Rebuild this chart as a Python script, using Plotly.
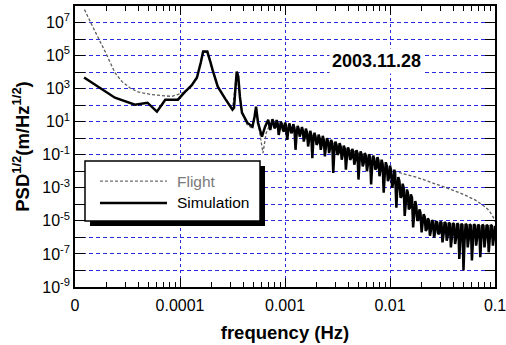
import plotly.graph_objects as go

# ---------------- data ----------------
# Simulation: low-frequency part with the resonance peaks
sim_freq_low = [
    1.22e-5, 2.40e-5, 3.72e-5, 4.90e-5, 6.03e-5, 7.24e-5, 9.55e-5, 1.12e-4,
    1.29e-4, 1.45e-4, 1.58e-4, 1.66e-4, 1.82e-4, 1.95e-4, 2.04e-4, 2.29e-4,
    2.69e-4, 3.16e-4, 3.27e-4, 3.39e-4, 3.47e-4, 3.59e-4, 3.72e-4, 3.89e-4,
    4.37e-4, 4.90e-4, 5.13e-4, 5.30e-4, 5.53e-4, 6.03e-4, 6.46e-4, 6.92e-4,
    7.24e-4,
]
sim_psd_low = [
    4.68e3, 2.82e2, 1.07e2, 1.41e2, 4.07e1, 2.14e2, 2.14e2, 6.61e2,
    1.58e3, 4.68e3, 3.98e4, 1.74e5, 1.74e5, 3.98e4, 1.41e4, 1.32e3,
    2.51e2, 5.37e1, 7.08e1, 1.58e3, 1.07e4, 5.37e3, 3.16e2, 3.55e1,
    8.71e0, 5.01e0, 2.00e1, 8.13e1, 8.71e0, 1.23e0, 5.01e0, 1.32e1,
    3.16e0,
]
# Simulation: noisy high-frequency band, bins set A
sim_freq_a = [
    7.59e-4, 7.94e-4, 8.32e-4, 8.71e-4, 9.12e-4, 9.55e-4,
    1.00e-3, 1.05e-3, 1.10e-3, 1.15e-3, 1.20e-3, 1.26e-3, 1.32e-3, 1.38e-3,
    1.45e-3, 1.51e-3, 1.58e-3, 1.66e-3, 1.74e-3, 1.82e-3, 1.91e-3, 2.00e-3,
    2.09e-3, 2.19e-3, 2.29e-3, 2.40e-3, 2.51e-3, 2.63e-3, 2.75e-3, 2.88e-3,
    3.02e-3, 3.16e-3, 3.31e-3, 3.47e-3, 3.63e-3, 3.80e-3, 3.98e-3, 4.17e-3,
    4.37e-3, 4.57e-3, 4.79e-3, 5.01e-3, 5.25e-3, 5.50e-3, 5.75e-3, 6.03e-3,
    6.31e-3, 6.61e-3, 6.92e-3, 7.24e-3, 7.59e-3, 7.94e-3, 8.32e-3, 8.71e-3,
    9.12e-3, 9.55e-3,
    1.00e-2, 1.05e-2, 1.10e-2, 1.15e-2, 1.20e-2, 1.26e-2, 1.32e-2, 1.38e-2,
    1.45e-2, 1.51e-2, 1.58e-2, 1.66e-2, 1.74e-2, 1.82e-2, 1.91e-2, 2.00e-2,
    2.09e-2, 2.19e-2, 2.29e-2, 2.40e-2, 2.51e-2, 2.63e-2, 2.75e-2, 2.88e-2,
    3.02e-2, 3.16e-2, 3.31e-2, 3.47e-2, 3.63e-2, 3.80e-2, 3.98e-2, 4.17e-2,
    4.37e-2, 4.57e-2, 4.79e-2, 5.01e-2, 5.25e-2, 5.50e-2, 5.75e-2, 6.03e-2,
    6.31e-2, 6.61e-2, 6.92e-2, 7.24e-2, 7.59e-2, 7.94e-2, 8.32e-2, 8.71e-2,
    9.12e-2, 9.55e-2, 1.00e-1,
]
sim_psd_a = [
    1.41e1, 3.98e0, 1.26e1, 1.58e0, 1.00e1, 3.16e0,
    8.91e0, 7.94e-1, 7.94e0, 2.00e0, 7.08e0, 2.00e-1, 5.62e0, 1.26e0,
    4.79e0, 6.31e-1, 3.80e0, 3.16e-1, 2.82e0, 6.31e-2, 2.14e0, 3.98e-1,
    1.66e0, 2.00e-1, 1.41e0, 7.94e-2, 1.00e0, 1.26e-1, 7.94e-1, 7.94e-3,
    6.31e-1, 1.00e-1, 5.01e-1, 5.01e-2, 3.55e-1, 1.26e-2, 2.82e-1, 5.01e-2,
    2.24e-1, 2.51e-2, 1.91e-1, 3.16e-3, 1.58e-1, 2.00e-2, 1.26e-1, 1.00e-2,
    1.07e-1, 1.58e-3, 8.91e-2, 1.26e-2, 7.08e-2, 5.01e-3, 5.01e-2, 5.01e-4,
    3.55e-2, 2.51e-3,
    2.24e-2, 1.00e-3, 1.26e-2, 6.31e-5, 4.47e-3, 2.51e-4, 1.78e-3, 2.00e-5,
    7.94e-4, 5.01e-5, 3.98e-4, 3.98e-6, 1.58e-4, 1.00e-5, 5.01e-5, 2.00e-6,
    2.51e-5, 2.51e-6, 1.41e-5, 1.26e-6, 1.12e-5, 1.00e-6, 9.55e-6, 1.58e-6,
    8.91e-6, 5.01e-7, 8.32e-6, 6.31e-7, 7.94e-6, 2.51e-7, 7.41e-6, 3.98e-7,
    7.08e-6, 5.01e-8, 6.76e-6, 1.00e-8, 6.61e-6, 2.51e-7, 6.31e-6, 3.98e-8,
    6.31e-6, 3.16e-7, 6.03e-6, 6.31e-8, 5.89e-6, 2.51e-7, 5.75e-6, 1.26e-7,
    5.75e-6, 3.16e-7, 5.01e-6,
]
# Simulation: noisy high-frequency band, bins set B (in between set A)
sim_freq_b = [
    7.76e-4, 8.13e-4, 8.51e-4, 8.91e-4, 9.33e-4, 9.77e-4,
    1.02e-3, 1.07e-3, 1.12e-3, 1.17e-3, 1.23e-3, 1.29e-3, 1.35e-3, 1.41e-3,
    1.48e-3, 1.55e-3, 1.62e-3, 1.70e-3, 1.78e-3, 1.86e-3, 1.95e-3, 2.04e-3,
    2.14e-3, 2.24e-3, 2.34e-3, 2.45e-3, 2.57e-3, 2.69e-3, 2.82e-3, 2.95e-3,
    3.09e-3, 3.24e-3, 3.39e-3, 3.55e-3, 3.72e-3, 3.89e-3, 4.07e-3, 4.27e-3,
    4.47e-3, 4.68e-3, 4.90e-3, 5.13e-3, 5.37e-3, 5.62e-3, 5.89e-3, 6.17e-3,
    6.46e-3, 6.76e-3, 7.08e-3, 7.41e-3, 7.76e-3, 8.13e-3, 8.51e-3, 8.91e-3,
    9.33e-3, 9.77e-3,
    1.02e-2, 1.07e-2, 1.12e-2, 1.17e-2, 1.23e-2, 1.29e-2, 1.35e-2, 1.41e-2,
    1.48e-2, 1.55e-2, 1.62e-2, 1.70e-2, 1.78e-2, 1.86e-2, 1.95e-2, 2.04e-2,
    2.14e-2, 2.24e-2, 2.34e-2, 2.45e-2, 2.57e-2, 2.69e-2, 2.82e-2, 2.95e-2,
    3.09e-2, 3.24e-2, 3.39e-2, 3.55e-2, 3.72e-2, 3.89e-2, 4.07e-2, 4.27e-2,
    4.47e-2, 4.68e-2, 4.90e-2, 5.13e-2, 5.37e-2, 5.62e-2, 5.89e-2, 6.17e-2,
    6.46e-2, 6.76e-2, 7.08e-2, 7.41e-2, 7.76e-2, 8.13e-2, 8.51e-2, 8.91e-2,
    9.33e-2, 9.77e-2,
]
sim_psd_b = [
    8.91e0, 5.01e0, 7.94e0, 3.55e0, 7.08e0, 2.51e0,
    6.31e0, 2.24e0, 5.01e0, 2.51e0, 3.98e0, 1.78e0, 3.55e0, 2.00e0,
    2.82e0, 1.26e0, 2.24e0, 8.91e-1, 1.58e0, 6.31e-1, 1.26e0, 5.01e-1,
    1.00e0, 3.98e-1, 7.94e-1, 3.16e-1, 6.31e-1, 2.51e-1, 5.01e-1, 1.58e-1,
    3.98e-1, 1.26e-1, 3.16e-1, 1.00e-1, 2.24e-1, 7.94e-2, 1.78e-1, 6.31e-2,
    1.58e-1, 5.01e-2, 1.26e-1, 3.98e-2, 1.00e-1, 3.16e-2, 8.91e-2, 2.82e-2,
    7.08e-2, 2.00e-2, 5.62e-2, 1.58e-2, 4.47e-2, 1.26e-2, 2.82e-2, 6.31e-3,
    2.00e-2, 3.98e-3,
    1.26e-2, 2.00e-3, 7.08e-3, 6.31e-4, 2.51e-3, 3.16e-4, 1.00e-3, 1.00e-4,
    5.01e-4, 6.31e-5, 2.51e-4, 2.51e-5, 7.94e-5, 1.26e-5, 3.16e-5, 6.31e-6,
    1.78e-5, 3.16e-6, 1.12e-5, 2.51e-6, 8.91e-6, 2.00e-6, 7.94e-6, 1.78e-6,
    7.59e-6, 1.58e-6, 7.08e-6, 1.26e-6, 6.61e-6, 1.12e-6, 6.31e-6, 1.00e-6,
    6.03e-6, 7.94e-7, 5.62e-6, 6.31e-7, 5.62e-6, 7.94e-7, 5.25e-6, 6.31e-7,
    5.25e-6, 1.00e-6, 5.01e-6, 7.94e-7, 5.01e-6, 1.00e-6, 5.01e-6, 7.94e-7,
    5.01e-6, 1.00e-6,
]

flight_freq = [
    1.23e-5, 1.55e-5, 1.93e-5, 2.40e-5, 2.79e-5, 3.34e-5, 3.98e-5, 5.37e-5,
    8.34e-5, 1.12e-4, 1.45e-4, 1.66e-4, 1.82e-4, 2.04e-4, 2.29e-4, 3.16e-4,
    3.47e-4, 3.89e-4, 4.37e-4, 4.90e-4, 5.30e-4, 5.75e-4, 6.17e-4, 6.61e-4,
    7.24e-4, 1.00e-3, 1.58e-3, 2.51e-3, 3.98e-3, 5.62e-3, 6.89e-3, 8.95e-3,
    1.26e-2, 1.85e-2, 2.82e-2, 3.89e-2, 5.01e-2, 6.46e-2, 8.04e-2, 8.71e-2,
    9.35e-2, 9.77e-2, 1.00e-1,
]
flight_psd = [
    6.17e7, 2.95e6, 1.82e5, 9.33e3, 2.75e3, 1.10e3, 6.31e2, 4.37e2,
    3.39e2, 6.31e2, 3.98e3, 1.58e5, 1.58e5, 1.26e4, 1.26e3, 5.62e1,
    1.00e4, 3.98e1, 6.31e0, 3.98e0, 7.08e1, 2.00e0, 1.26e-1, 2.00e0,
    7.94e0, 5.01e0, 2.00e0, 6.31e-1, 2.00e-1, 1.00e-1, 3.80e-2, 1.62e-2,
    7.94e-3, 4.07e-3, 1.58e-3, 7.59e-4, 3.98e-4, 1.86e-4, 7.08e-5, 4.47e-5,
    2.29e-5, 1.41e-5, 8.71e-6,
]

x_tick_vals = [1e-5, 1e-4, 1e-3, 1e-2, 1e-1]
x_tick_text = ["0", "0.0001", "0.001", "0.01", "0.1"]
y_exponents = list(range(-9, 9))
y_tick_vals = [10.0 ** e for e in y_exponents]
y_tick_text = [f"10<sup>{e}</sup>" if e % 2 else "" for e in y_exponents]
x_minor_vals = [m * 10.0 ** k for k in range(-5, -1) for m in range(2, 10)]

series_names = ["Flight", "Simulation"]
date_label = "2003.11.28"

# merge the simulation bins into one frequency-ordered series
sim_pairs = sorted(zip(sim_freq_low + sim_freq_a + sim_freq_b,
                       sim_psd_low + sim_psd_a + sim_psd_b))
sim_freq = [p[0] for p in sim_pairs]
sim_psd = [p[1] for p in sim_pairs]

FONT = "Liberation Sans, Arial, sans-serif"
GRID = "#2a2ae0"

fig = go.Figure()
fig.add_trace(go.Scatter(
    x=flight_freq, y=flight_psd, mode="lines", name=series_names[0],
    line=dict(color="#5f5f5f", width=1.3, dash="3px,2px", simplify=False),
    showlegend=False,
))
fig.add_trace(go.Scatter(
    x=sim_freq, y=sim_psd, mode="lines", name=series_names[1],
    line=dict(color="black", width=2.5, simplify=False),
    showlegend=False,
))

fig.update_layout(
    width=506, height=345,
    margin=dict(l=75, r=11, t=6, b=58, autoexpand=False),
    paper_bgcolor="white", plot_bgcolor="white",
    font=dict(family=FONT, size=16, color="black"),
    xaxis=dict(
        type="log", range=[-5, -1], automargin=False,
        tickvals=x_tick_vals, ticktext=x_tick_text,
        ticks="inside", ticklen=9, tickwidth=1, tickcolor="black",
        showline=True, linecolor="black", linewidth=1.5, mirror="ticks",
        showgrid=True, gridcolor=GRID, gridwidth=1, griddash="3px,3px",
        zeroline=False, ticklabeloverflow="allow", ticklabelstandoff=3,
        tickfont=dict(size=16),
        minor=dict(tickvals=x_minor_vals, ticks="inside", ticklen=5,
                   tickcolor="black", tickwidth=1, showgrid=False),
        title=dict(text="<b>frequency (Hz)</b>", font=dict(size=18.5), standoff=13),
    ),
    yaxis=dict(
        type="log", range=[-9, 8], automargin=False,
        tickvals=y_tick_vals, ticktext=y_tick_text,
        ticks="inside", ticklen=10, tickwidth=1, tickcolor="black",
        showline=True, linecolor="black", linewidth=1.5, mirror="ticks",
        showgrid=True, gridcolor=GRID, gridwidth=1, griddash="4px,3px",
        zeroline=False, ticklabeloverflow="allow",
        tickfont=dict(size=16),
        title=dict(text="<b>PSD<sup>1/2</sup>(m/Hz<sup>1/2</sup>)</b>",
                   font=dict(size=18.5), standoff=8),
    ),
)

# legend drawn as a boxed panel with a drop shadow (paper coordinates)
fig.add_shape(type="rect", xref="paper", yref="paper",
              x0=0.0357, x1=0.4524, y0=0.217, y1=0.4306,
              fillcolor="black", line=dict(width=0), layer="above")
fig.add_shape(type="rect", xref="paper", yref="paper",
              x0=0.0238, x1=0.4405, y0=0.2349, y1=0.4484,
              fillcolor="white", line=dict(color="black", width=1.5), layer="above")
fig.add_shape(type="line", xref="paper", yref="paper",
              x0=0.0595, x1=0.219, y0=0.377, y1=0.377,
              line=dict(color="#6e6e6e", width=1.2, dash="3px,2px"), layer="above")
fig.add_shape(type="line", xref="paper", yref="paper",
              x0=0.0595, x1=0.219, y0=0.299, y1=0.299,
              line=dict(color="black", width=2.5), layer="above")
fig.add_annotation(xref="paper", yref="paper", x=0.238, y=0.377,
                   xanchor="left", yanchor="middle", showarrow=False,
                   text=series_names[0], font=dict(size=15.5, color="#7a7a7a"))
fig.add_annotation(xref="paper", yref="paper", x=0.238, y=0.299,
                   xanchor="left", yanchor="middle", showarrow=False,
                   text=series_names[1], font=dict(size=15.5, color="black"))

fig.add_annotation(xref="paper", yref="paper", x=0.719, y=0.804,
                   xanchor="center", yanchor="middle", showarrow=False,
                   text=f"<b>{date_label}</b>", font=dict(size=18, color="black"),
                   bgcolor="white", borderpad=2)

fig.write_html("out.html", config={"displayModeBar": False},
               post_script="document.body.style.margin='0px';")
